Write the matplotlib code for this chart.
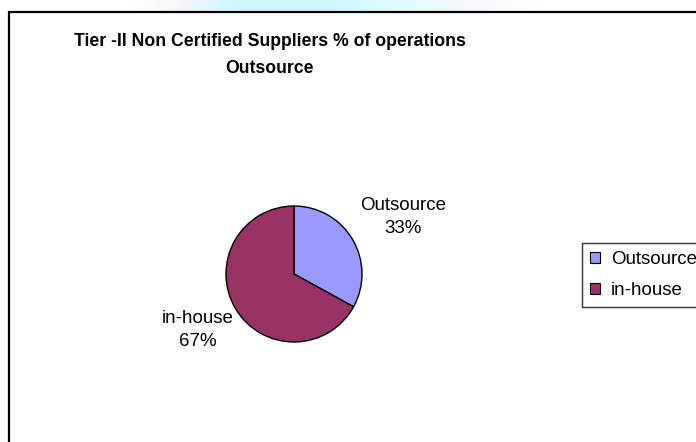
import numpy as np
import matplotlib
matplotlib.use("Agg")
import matplotlib.pyplot as plt
from matplotlib.patches import Rectangle, Patch

categories = ["Outsource", "in-house"]
values = [33, 67]
colors = ["#9999FF", "#993366"]
title_text = "Tier -II Non Certified Suppliers % of operations\nOutsource"

plt.rcParams['font.family'] = ['Liberation Sans', 'DejaVu Sans']

W, H = 696, 442
fig = plt.figure(figsize=(W / 100, H / 100), dpi=100)
fig.patch.set_facecolor("white")

def fx(px):
    return px / W

def fy(py):
    return 1 - py / H

# decorative background strip at the top (slide background peeking through)
bg = fig.add_axes([fx(130), fy(11), fx(540 - 130), 11 / H])
bg.axis("off")
xs = np.linspace(0, 1, 400)
stops_x = [0.0, 0.12, 0.25, 0.5, 0.7, 0.85, 1.0]
stops_c = np.array([
    [1.0, 1.0, 1.0],
    [0.98, 0.96, 0.98],
    [0.80, 0.97, 1.0],
    [0.80, 0.97, 1.0],
    [0.90, 0.99, 1.0],
    [0.98, 0.97, 0.99],
    [1.0, 1.0, 1.0],
])
grad = np.stack([np.interp(xs, stops_x, stops_c[:, k]) for k in range(3)], axis=-1)
bg.imshow(grad[None, :, :], aspect="auto", extent=[0, 1, 0, 1])

# chart frame (cropped: continues past right and bottom edges)
frame = Rectangle((fx(9), fy(H + 20)), fx(W + 40), (H + 20 - 12) / H,
                  transform=fig.transFigure, fill=False, edgecolor="black",
                  linewidth=1.6, zorder=5)
fig.add_artist(frame)

# title
fig.text(fx(270), fy(55), title_text, ha="center", va="center",
         fontsize=12.7, fontweight="bold", linespacing=1.8)

# pie
cx, cy, r = 294, 274, 68
ax = fig.add_axes([fx(cx - r), fy(cy + r), fx(2 * r), 2 * r / H])
wedges, _ = ax.pie(values, colors=colors, startangle=90, counterclock=False,
                   wedgeprops=dict(edgecolor="black", linewidth=1.0))
ax.set_xlim(-1, 1)
ax.set_ylim(-1, 1)
ax.set_aspect("equal")
ax.axis("off")

offsets = [(1.86, 1.64), (1.64, 1.62)]
for w, cat, val, (dx, dy) in zip(wedges, categories, values, offsets):
    th = np.deg2rad((w.theta1 + w.theta2) / 2)
    ax.text(dx * np.cos(th), dy * np.sin(th), f"{cat}\n{val}%",
            ha="center", va="center", fontsize=13.5, linespacing=1.5,
            clip_on=False)

# legend
handles = [Patch(facecolor=c, edgecolor="black", linewidth=0.8) for c in colors]
leg = fig.legend(handles, categories, loc="upper left",
                 bbox_to_anchor=(fx(582), fy(243)), fontsize=13.5,
                 frameon=True, fancybox=False, borderaxespad=0,
                 handlelength=0.5, handleheight=0.5, handletextpad=0.6,
                 labelspacing=0.72, borderpad=0.45)
leg.get_frame().set_edgecolor("black")
leg.get_frame().set_linewidth(1.0)

fig.savefig("out.png", dpi=100)
